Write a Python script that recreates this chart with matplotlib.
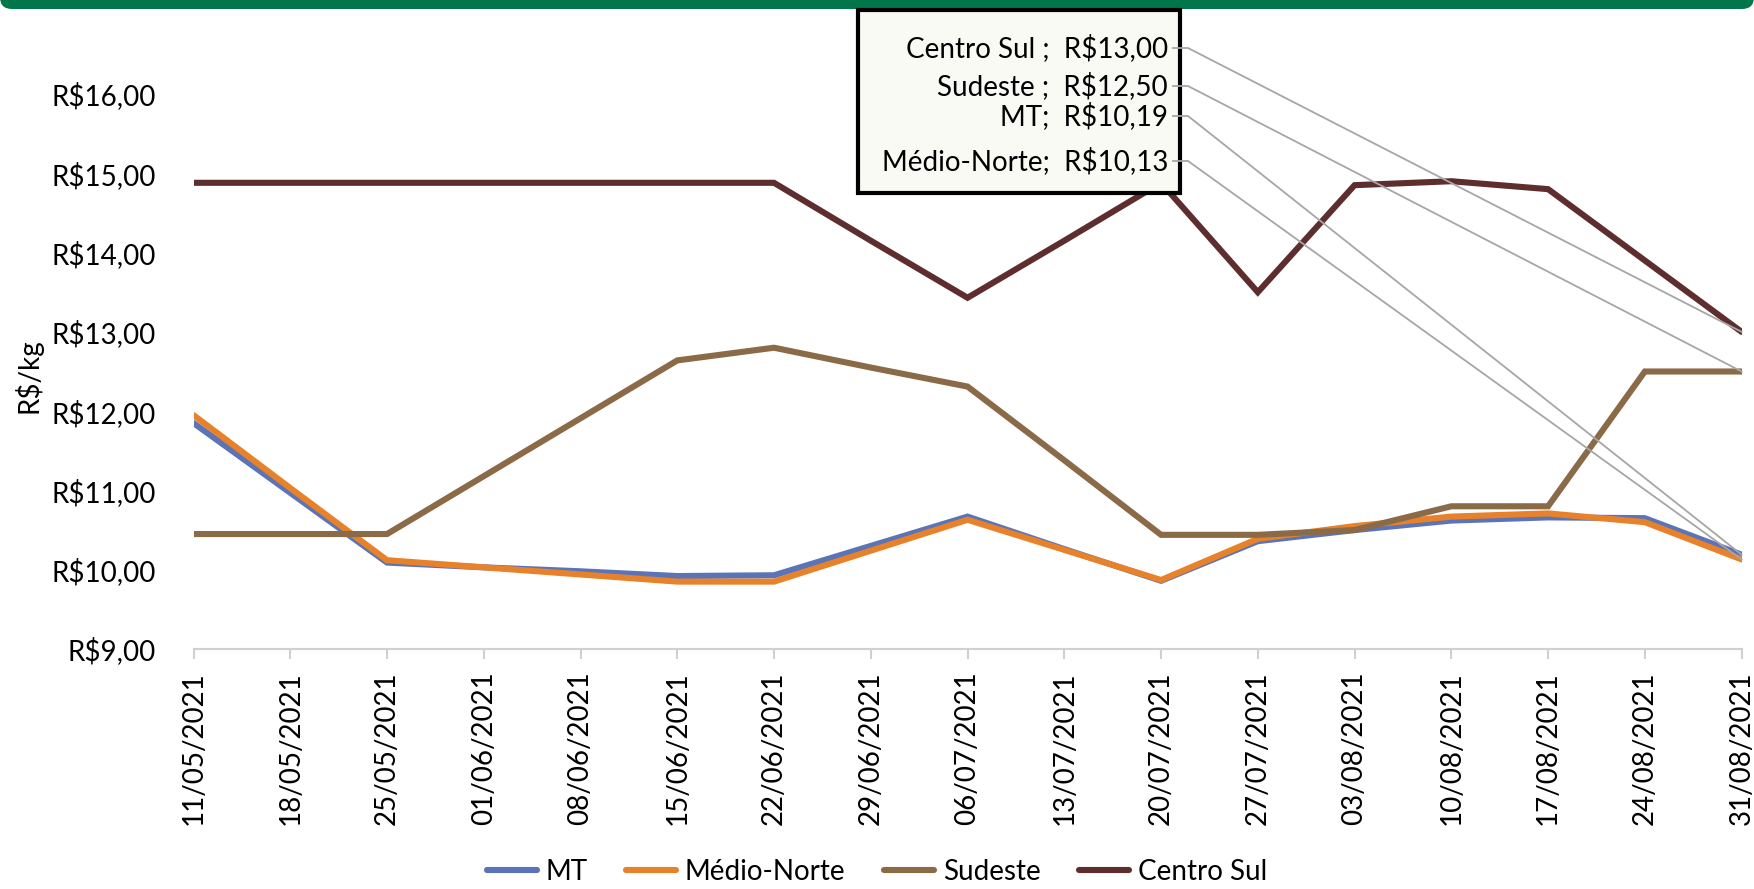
import numpy as np
import matplotlib
matplotlib.use("Agg")
import matplotlib.pyplot as plt
from matplotlib.lines import Line2D
from matplotlib.patches import Rectangle, FancyBboxPatch

plt.rcParams['font.family'] = ['Lato', 'DejaVu Sans']

datas = ['11/05/2021', '18/05/2021', '25/05/2021', '01/06/2021', '08/06/2021',
         '15/06/2021', '22/06/2021', '29/06/2021', '06/07/2021', '13/07/2021',
         '20/07/2021', '27/07/2021', '03/08/2021', '10/08/2021', '17/08/2021',
         '24/08/2021', '31/08/2021']

mt = [11.85, 10.97, 10.09, 10.03, 9.98, 9.92, 9.93, 10.30, 10.67, 10.26,
      9.86, 10.36, 10.50, 10.62, 10.66, 10.65, 10.19]
medio_norte = [11.95, 11.03, 10.12, 10.03, 9.94, 9.85, 9.85, 10.24, 10.63, 10.25,
               9.87, 10.39, 10.55, 10.67, 10.71, 10.60, 10.13]
sudeste = [10.45, 10.45, 10.45, 11.18, 11.91, 12.64, 12.80, 12.55, 12.31, 11.38,
           10.44, 10.44, 10.50, 10.80, 10.80, 12.50, 12.50]
centro_sul = [14.88, 14.88, 14.88, 14.88, 14.88, 14.88, 14.88, 14.15, 13.43, 14.15,
              14.88, 13.50, 14.85, 14.90, 14.80, 13.90, 13.00]

series = [('MT', mt, '#5B74B8'),
          ('Médio-Norte', medio_norte, '#E8822A'),
          ('Sudeste', sudeste, '#8B6A48'),
          ('Centro Sul', centro_sul, '#5E2E2E')]

W, H = 1754, 889
fig = plt.figure(figsize=(W / 100, H / 100), dpi=100)
ax = fig.add_axes([193.5 / W, 1 - 649 / H, (1741.6 - 193.5) / W, (649 - 94) / H])

x = np.arange(len(datas))
for name, vals, col in series:
    ax.plot(x, vals, color=col, lw=4.4, label=name,
            solid_capstyle='round', solid_joinstyle='miter')

ax.set_xlim(0, len(datas) - 1)
ax.set_ylim(9, 16)
ax.set_yticks(np.arange(9, 17))
ax.set_yticklabels(['R$%d,00' % v for v in range(9, 17)])
ax.set_xticks(x)
ax.set_xticklabels(datas, rotation=90)
ax.tick_params(axis='y', length=0, labelsize=20, pad=27)
ax.tick_params(axis='x', length=7, color='#D0D0D0', width=1.5, labelsize=20, pad=9)
for s in ['top', 'right', 'left']:
    ax.spines[s].set_visible(False)
ax.spines['bottom'].set_color('#D0D0D0')
ax.spines['bottom'].set_linewidth(1.5)
fig.text(28 / W, 1 - 376 / H, 'R$/kg', rotation=90, ha='center', va='center', fontsize=20)

leg = fig.legend(loc='center', bbox_to_anchor=(0.5, 1 - 872 / H), ncol=4,
                 frameon=False, fontsize=20, handlelength=1.8, columnspacing=1.4,
                 handletextpad=0.3)
for h in leg.legend_handles:
    h.set_linewidth(4.4)

# green bar at the top
fig.add_artist(FancyBboxPatch((0, (H - 9) / 100), W / 100, 0.4,
                              boxstyle='round,pad=0,rounding_size=0.12',
                              transform=fig.dpi_scale_trans, facecolor='#00764A',
                              edgecolor='none', zorder=3))

# data label box
bx0, bx1, by0, by1 = 858, 1180, 10, 193
fig.add_artist(Rectangle((bx0 / W, 1 - by1 / H), (bx1 - bx0) / W, (by1 - by0) / H,
                         transform=fig.transFigure, facecolor='#FAFAF5',
                         edgecolor='black', lw=3, zorder=4))

labels = [('Centro Sul ;  R$13,00', centro_sul[-1], 48),
          ('Sudeste ;  R$12,50', sudeste[-1], 86),
          ('MT;  R$10,19', mt[-1], 116),
          ('Médio-Norte;  R$10,13', medio_norte[-1], 161)]
for txt, val, ty in labels:
    fig.text(1168 / W, 1 - ty / H, txt, ha='right', va='center', fontsize=20, zorder=5)
    px, py = ax.transData.transform((x[-1], val))
    fig.add_artist(Line2D([1173 / W, 1188 / W, px / W], [1 - ty / H, 1 - ty / H, py / H],
                          transform=fig.transFigure, color='#A6A6A6', lw=1.3, zorder=5))

fig.savefig('out.png', dpi=100)
